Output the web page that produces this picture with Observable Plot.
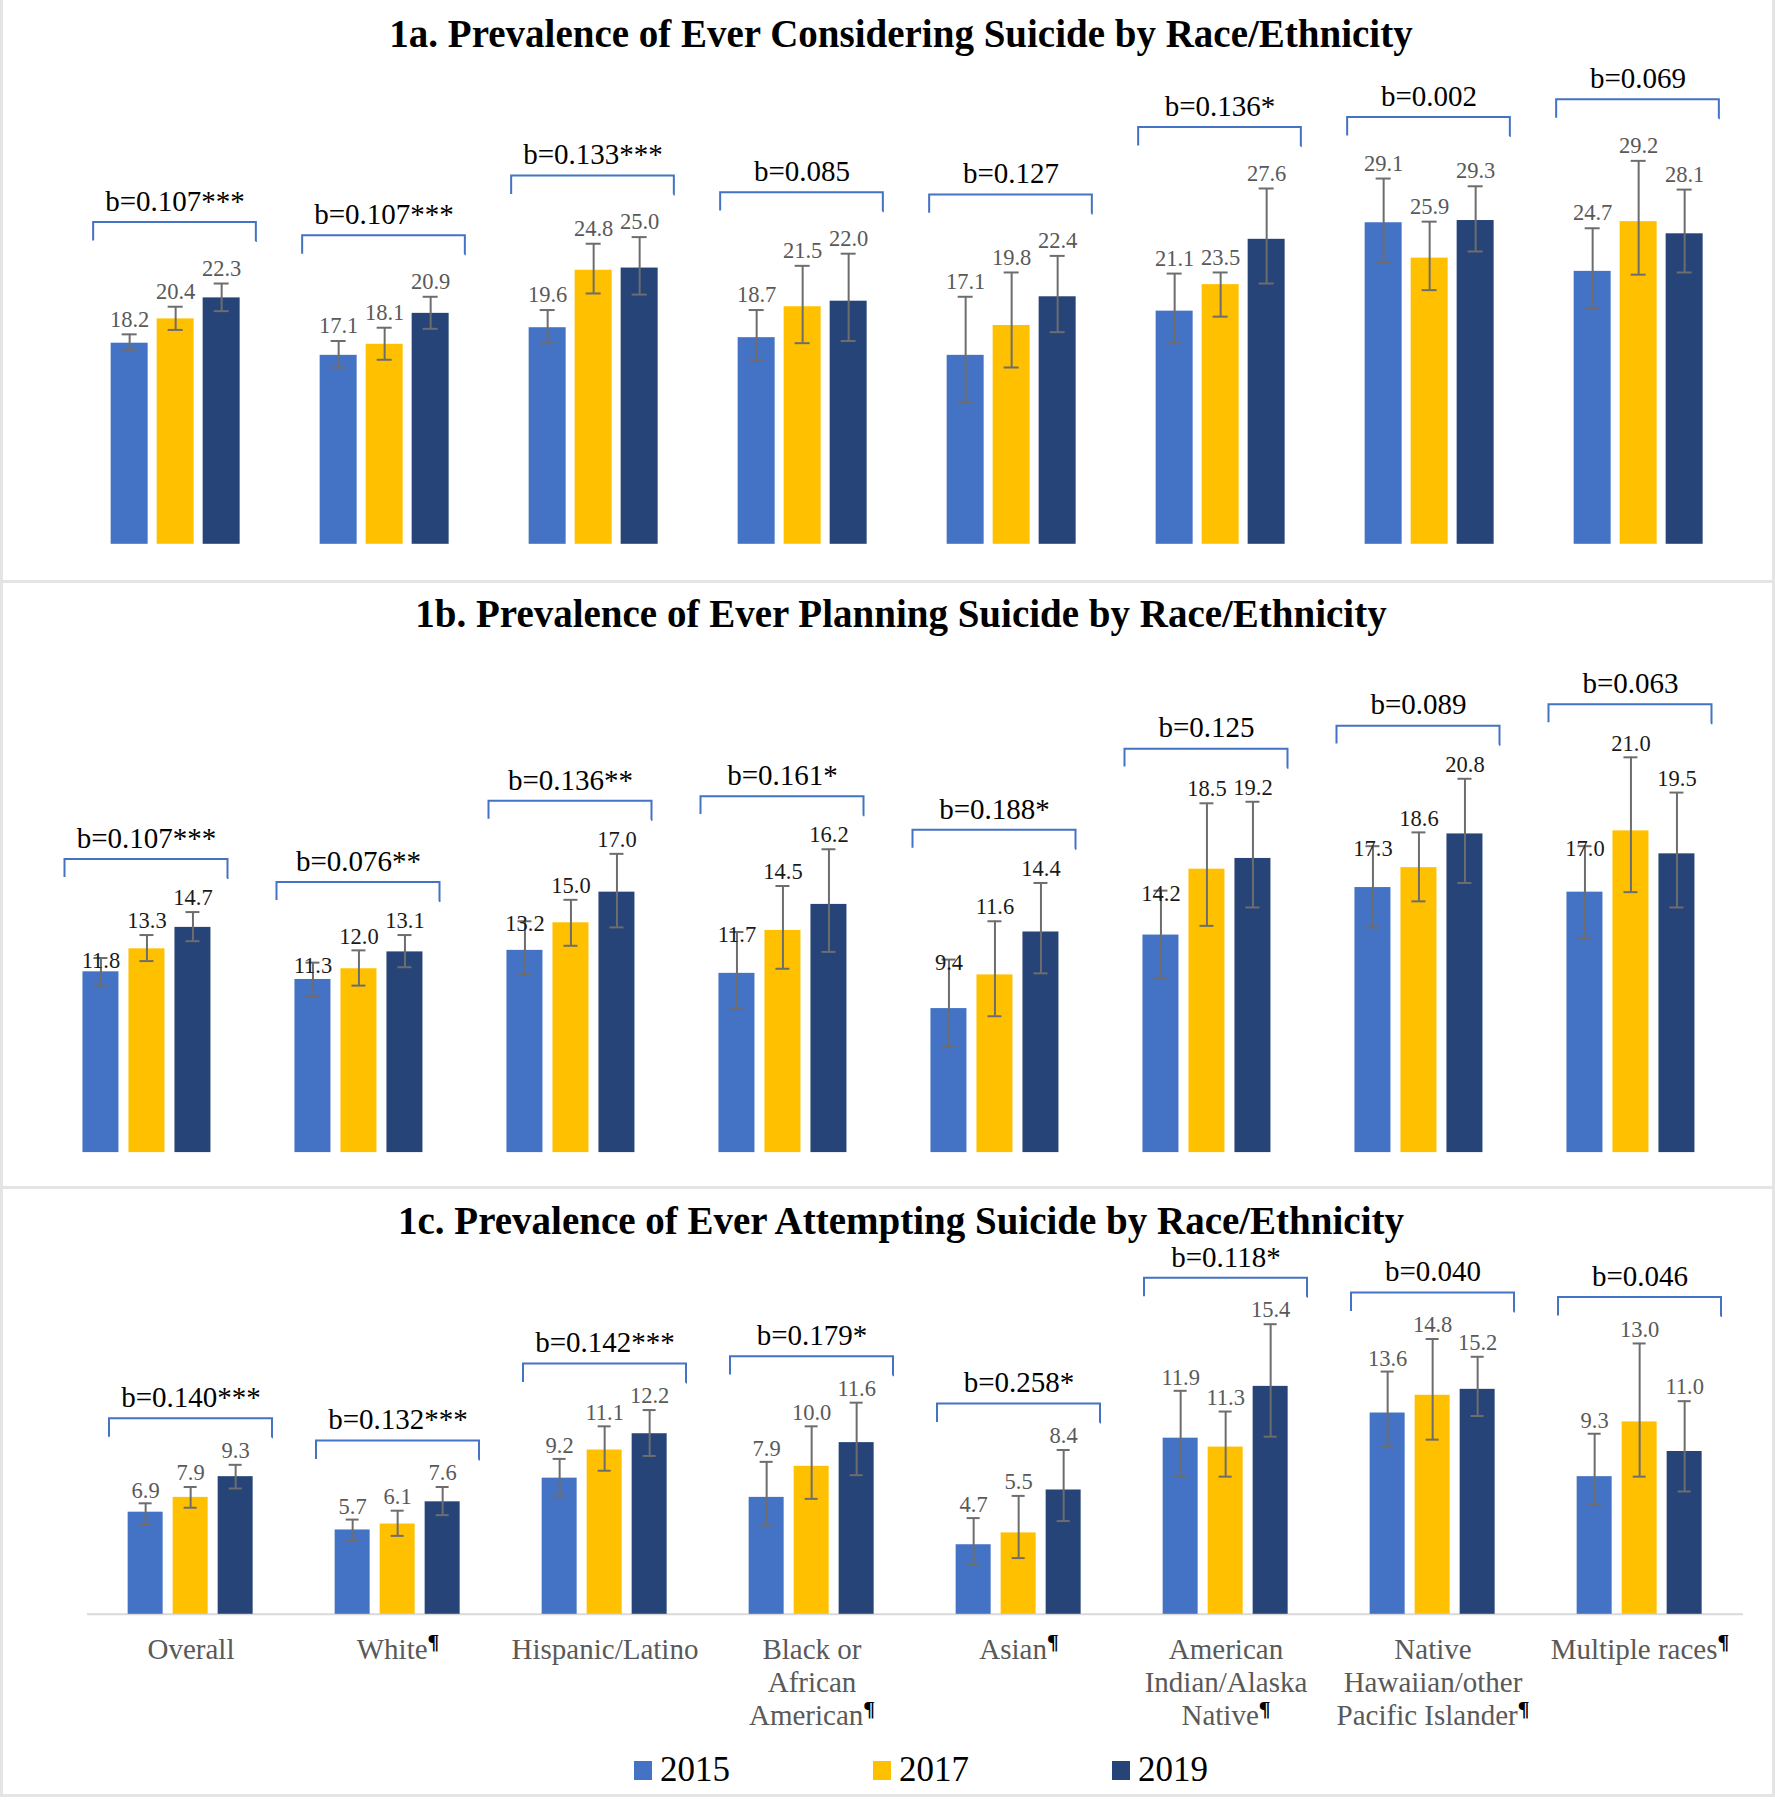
<!DOCTYPE html>
<html>
<head>
<meta charset="utf-8">
<script src="https://cdn.jsdelivr.net/npm/d3@7"></script>
<script src="https://cdn.jsdelivr.net/npm/@observablehq/plot@0.6"></script>
<style>
  body { margin: 0; background: #fff; }
  #root { position: relative; width: 1775px; height: 1800px; overflow: hidden; background: #fff;
          font-family: 'Liberation Serif', 'Times New Roman', serif; }
  .line { position: absolute; background: #e4e4e4; }
  .title { position: absolute; left: 0; width: 1802px; text-align: center; font-weight: bold;
           font-size: 39px; line-height: 44px; color: #000; white-space: nowrap; }
  .panel { position: absolute; left: 0; }
  #legend { position: absolute; left: 634px; top: 1748px; height: 44px; display: flex; align-items: center;
            gap: 143px; font-size: 35px; line-height: 44px; color: #000; }
  .item { display: flex; align-items: center; }
  .sw { width: 18px; height: 19px; margin-right: 8px; }
</style>
</head>
<body>
<div id="root">
  <div class="line" style="left:0;top:0;width:3px;height:1797px"></div>
  <div class="line" style="left:1772px;top:0;width:3px;height:1797px"></div>
  <div class="line" style="left:0;top:580px;width:1775px;height:3px"></div>
  <div class="line" style="left:0;top:1186px;width:1775px;height:3px"></div>
  <div class="line" style="left:0;top:1794px;width:1775px;height:3px"></div>
  <div id="panelA" class="panel" style="top:0"></div>
  <div id="panelB" class="panel" style="top:583px"></div>
  <div id="panelC" class="panel" style="top:1190px"></div>
  <div class="title" style="top:12px">1a. Prevalence of Ever Considering Suicide by Race/Ethnicity</div>
  <div class="title" style="top:592px">1b. Prevalence of Ever Planning Suicide by Race/Ethnicity</div>
  <div class="title" style="top:1199px">1c. Prevalence of Ever Attempting Suicide by Race/Ethnicity</div>
  <div id="legend"></div>
</div>
<script>
// ---------- DATA ----------
const races = ["Overall", "White", "Hispanic/Latino", "Black or African American", "Asian",
  "American Indian/Alaska Native", "Native Hawaiian/other Pacific Islander", "Multiple races"];
const categoryLabels = ["Overall", "White¶", "Hispanic/Latino", "Black or\nAfrican\nAmerican¶", "Asian¶",
  "American\nIndian/Alaska\nNative¶", "Native\nHawaiian/other\nPacific Islander¶", "Multiple races¶"];
const years = ["2015", "2017", "2019"];
const yearColors = ["#4472C4", "#FFC000", "#264478"];

// 1a. Considering suicide
const consider2015 = [18.2, 17.1, 19.6, 18.7, 17.1, 21.1, 29.1, 24.7];
const consider2017 = [20.4, 18.1, 24.8, 21.5, 19.8, 23.5, 25.9, 29.2];
const consider2019 = [22.3, 20.9, 25.0, 22.0, 22.4, 27.6, 29.3, 28.1];
const considerLow2015 = [17.5, 16.0, 18.2, 16.6, 12.8, 18.2, 25.5, 21.3];
const considerHigh2015 = [19.0, 18.4, 21.2, 21.2, 22.4, 24.5, 33.1, 28.6];
const considerLow2017 = [19.4, 16.7, 22.7, 18.2, 16.0, 20.6, 23.0, 24.4];
const considerHigh2017 = [21.5, 19.6, 27.2, 25.2, 24.6, 24.6, 29.2, 34.7];
const considerLow2019 = [21.1, 19.5, 22.6, 18.4, 19.2, 23.6, 26.5, 24.6];
const considerHigh2019 = [23.6, 22.4, 27.8, 26.3, 26.1, 32.2, 32.4, 32.1];
const considerTrend = ["b=0.107***", "b=0.107***", "b=0.133***", "b=0.085", "b=0.127", "b=0.136*", "b=0.002", "b=0.069"];

// 1b. Planning suicide
const plan2015 = [11.8, 11.3, 13.2, 11.7, 9.4, 14.2, 17.3, 17.0];
const plan2017 = [13.3, 12.0, 15.0, 14.5, 11.6, 18.5, 18.6, 21.0];
const plan2019 = [14.7, 13.1, 17.0, 16.2, 14.4, 19.2, 20.8, 19.5];
const planLow2015 = [10.9, 10.2, 11.6, 9.4, 6.9, 11.4, 14.7, 14.0];
const planHigh2015 = [12.7, 12.4, 15.1, 14.4, 12.6, 17.1, 20.0, 20.0];
const planLow2017 = [12.5, 10.9, 13.5, 12.0, 8.9, 14.8, 16.4, 17.0];
const planHigh2017 = [14.2, 13.2, 16.5, 17.4, 15.1, 22.8, 20.9, 25.8];
const planLow2019 = [13.8, 12.1, 14.7, 13.1, 11.7, 16.0, 17.6, 16.0];
const planHigh2019 = [15.7, 14.2, 19.5, 19.8, 17.6, 22.9, 24.4, 23.5];
const planTrend = ["b=0.107***", "b=0.076**", "b=0.136**", "b=0.161*", "b=0.188*", "b=0.125", "b=0.089", "b=0.063"];

// 1c. Attempting suicide
const attempt2015 = [6.9, 5.7, 9.2, 7.9, 4.7, 11.9, 13.6, 9.3];
const attempt2017 = [7.9, 6.1, 11.1, 10.0, 5.5, 11.3, 14.8, 13.0];
const attempt2019 = [9.3, 7.6, 12.2, 11.6, 8.4, 15.4, 15.2, 11.0];
const attemptLow2015 = [6.1, 5.0, 8.0, 6.0, 3.4, 9.3, 11.3, 7.4];
const attemptHigh2015 = [7.5, 6.4, 10.5, 10.3, 6.5, 15.1, 16.4, 12.2];
const attemptLow2017 = [7.2, 5.3, 9.7, 7.8, 3.8, 9.3, 11.8, 9.3];
const attemptHigh2017 = [8.6, 7.0, 12.7, 12.7, 8.0, 13.7, 18.6, 18.3];
const attemptLow2019 = [8.5, 6.7, 10.7, 9.4, 6.3, 12.0, 13.4, 8.3];
const attemptHigh2019 = [10.1, 8.6, 13.8, 14.3, 11.1, 19.6, 17.4, 14.4];
const attemptTrend = ["b=0.140***", "b=0.132***", "b=0.142***", "b=0.179*", "b=0.258*", "b=0.118*", "b=0.040", "b=0.046"];

// ---------- DRAWING ----------
const FONT = "'Liberation Serif', 'Times New Roman', serif";
const W = 1775;
const errColor = "#6d6d6d";

function buildRows(vals, lows, highs) {
  return races.flatMap((race, i) => years.map((year, j) => ({
    race, year, value: vals[j][i], lo: lows[j][i], hi: highs[j][i]
  })));
}

function raisePilcrows(svg) {
  svg.querySelectorAll("text").forEach(t => {
    const leaves = t.querySelector("tspan") ? Array.from(t.querySelectorAll("tspan")) : [t];
    leaves.forEach(el => {
      const s = el.textContent;
      if (!s.endsWith("¶")) return;
      el.textContent = s.slice(0, -1);
      const sup = document.createElementNS("http://www.w3.org/2000/svg", "tspan");
      sup.setAttribute("dy", "-0.45em");
      sup.setAttribute("font-size", "0.75em");
      sup.setAttribute("font-weight", "bold");
      sup.setAttribute("fill", "#000");
      sup.textContent = "¶";
      el.appendChild(sup);
    });
  });
}

function drawPanel(cfg) {
  const rows = buildRows(cfg.vals, cfg.lows, cfg.highs);
  const groups = races.map((race, i) => ({
    race, b: cfg.trend[i], label: categoryLabels[i], top: d3.max(cfg.highs, h => h[i])
  }));
  const cell = (W - cfg.ml - cfg.mr) / races.length;
  const bw = cell - 2 * cfg.bracketInset;
  const bh = 19;
  const marks = [
    cfg.axisLine ? Plot.ruleY([0], {stroke: "#d9d9d9", strokeWidth: 2}) : null,
    Plot.barY(rows, {fx: "race", x: "year", y: "value", fill: "year"}),
    Plot.ruleX(rows, {fx: "race", x: "year", y1: "lo", y2: "hi", stroke: errColor, strokeWidth: 2}),
    Plot.tickY(rows, {fx: "race", x: "year", y: "hi", stroke: errColor, strokeWidth: 2, insetLeft: 11, insetRight: 11}),
    Plot.tickY(rows, {fx: "race", x: "year", y: "lo", stroke: errColor, strokeWidth: 2, insetLeft: 11, insetRight: 11}),
    Plot.text(rows, {filter: d => d.year === "2015", fx: "race", x: "year", y: "hi",
      text: d => d.value.toFixed(1), dy: cfg.dyFirst, fontSize: 22.5, fill: cfg.labelColor}),
    Plot.text(rows, {filter: d => d.year !== "2015", fx: "race", x: "year", y: "hi",
      text: d => d.value.toFixed(1), dy: cfg.dyOther, fontSize: 22.5, fill: cfg.labelColor}),
    Plot.rect(groups, {fx: "race", y1: "top", y2: "top", dy: -cfg.gap,
      insetLeft: cfg.bracketInset, insetRight: cfg.bracketInset, insetBottom: -bh,
      fill: "none", stroke: "#4472C4", strokeWidth: 2,
      strokeDasharray: `${bw + bh},${bw},${bh + 4}`}),
    Plot.text(groups, {fx: "race", y: "top", text: "b", dy: -cfg.gap - 21, fontSize: 29, fill: "#000"}),
    cfg.categoryAxis ? Plot.text(groups, {fx: "race", text: "label", frameAnchor: "bottom", dy: 21.5,
      lineAnchor: "top", lineHeight: 1.14, fontSize: 29, fill: "#595959"}) : null
  ].filter(Boolean);

  const svg = Plot.plot({
    width: W,
    height: cfg.height,
    marginLeft: cfg.ml,
    marginRight: cfg.mr,
    marginTop: cfg.mt,
    marginBottom: cfg.mb,
    fx: {domain: races, padding: 0, axis: null},
    x: {domain: years, paddingInner: cfg.pi, paddingOuter: cfg.po, axis: null},
    y: {domain: [0, cfg.ymax], axis: null},
    color: {domain: years, range: yearColors},
    style: {fontFamily: FONT, background: "transparent", overflow: "visible"},
    marks
  });
  if (cfg.categoryAxis) raisePilcrows(svg);
  document.getElementById(cfg.target).appendChild(svg);
}

drawPanel({
  target: "panelA", vals: [consider2015, consider2017, consider2019],
  lows: [considerLow2015, considerLow2017, considerLow2019],
  highs: [considerHigh2015, considerHigh2017, considerHigh2019],
  trend: considerTrend, height: 580, ml: 68.35, mr: 32.35, mt: 46.55, mb: 36.2, ymax: 45,
  pi: 0.2043, po: 0.8527, gap: 61, bracketInset: 23.15, dyFirst: -15, dyOther: -15,
  labelColor: "#595959", axisLine: false, categoryAxis: false
});
drawPanel({
  target: "panelB", vals: [plan2015, plan2017, plan2019],
  lows: [planLow2015, planLow2017, planLow2019],
  highs: [planHigh2015, planHigh2017, planHigh2019],
  trend: planTrend, height: 600, ml: 37.55, mr: 37.2, mt: 48.2, mb: 30.9, ymax: 34,
  pi: 0.217, po: 0.869, gap: 52.6, bracketInset: 24.5, dyFirst: 3, dyOther: -14,
  labelColor: "#1a1a1a", axisLine: false, categoryAxis: false
});
drawPanel({
  target: "panelC", vals: [attempt2015, attempt2017, attempt2019],
  lows: [attemptLow2015, attemptLow2017, attemptLow2019],
  highs: [attemptHigh2015, attemptHigh2017, attemptHigh2019],
  trend: attemptTrend, height: 555, ml: 85.35, mr: 31.35, mt: 39, mb: 131.2, ymax: 26,
  pi: 0.213, po: 0.86, gap: 46, bracketInset: 22, dyFirst: -13, dyOther: -14,
  labelColor: "#595959", axisLine: true, categoryAxis: true
});

// Legend
const legend = document.getElementById("legend");
years.forEach((y, i) => {
  const item = document.createElement("div");
  item.className = "item";
  const sw = document.createElement("span");
  sw.className = "sw";
  sw.style.background = yearColors[i];
  const label = document.createElement("span");
  label.textContent = y;
  item.appendChild(sw);
  item.appendChild(label);
  legend.appendChild(item);
});
</script>
</body>
</html>
